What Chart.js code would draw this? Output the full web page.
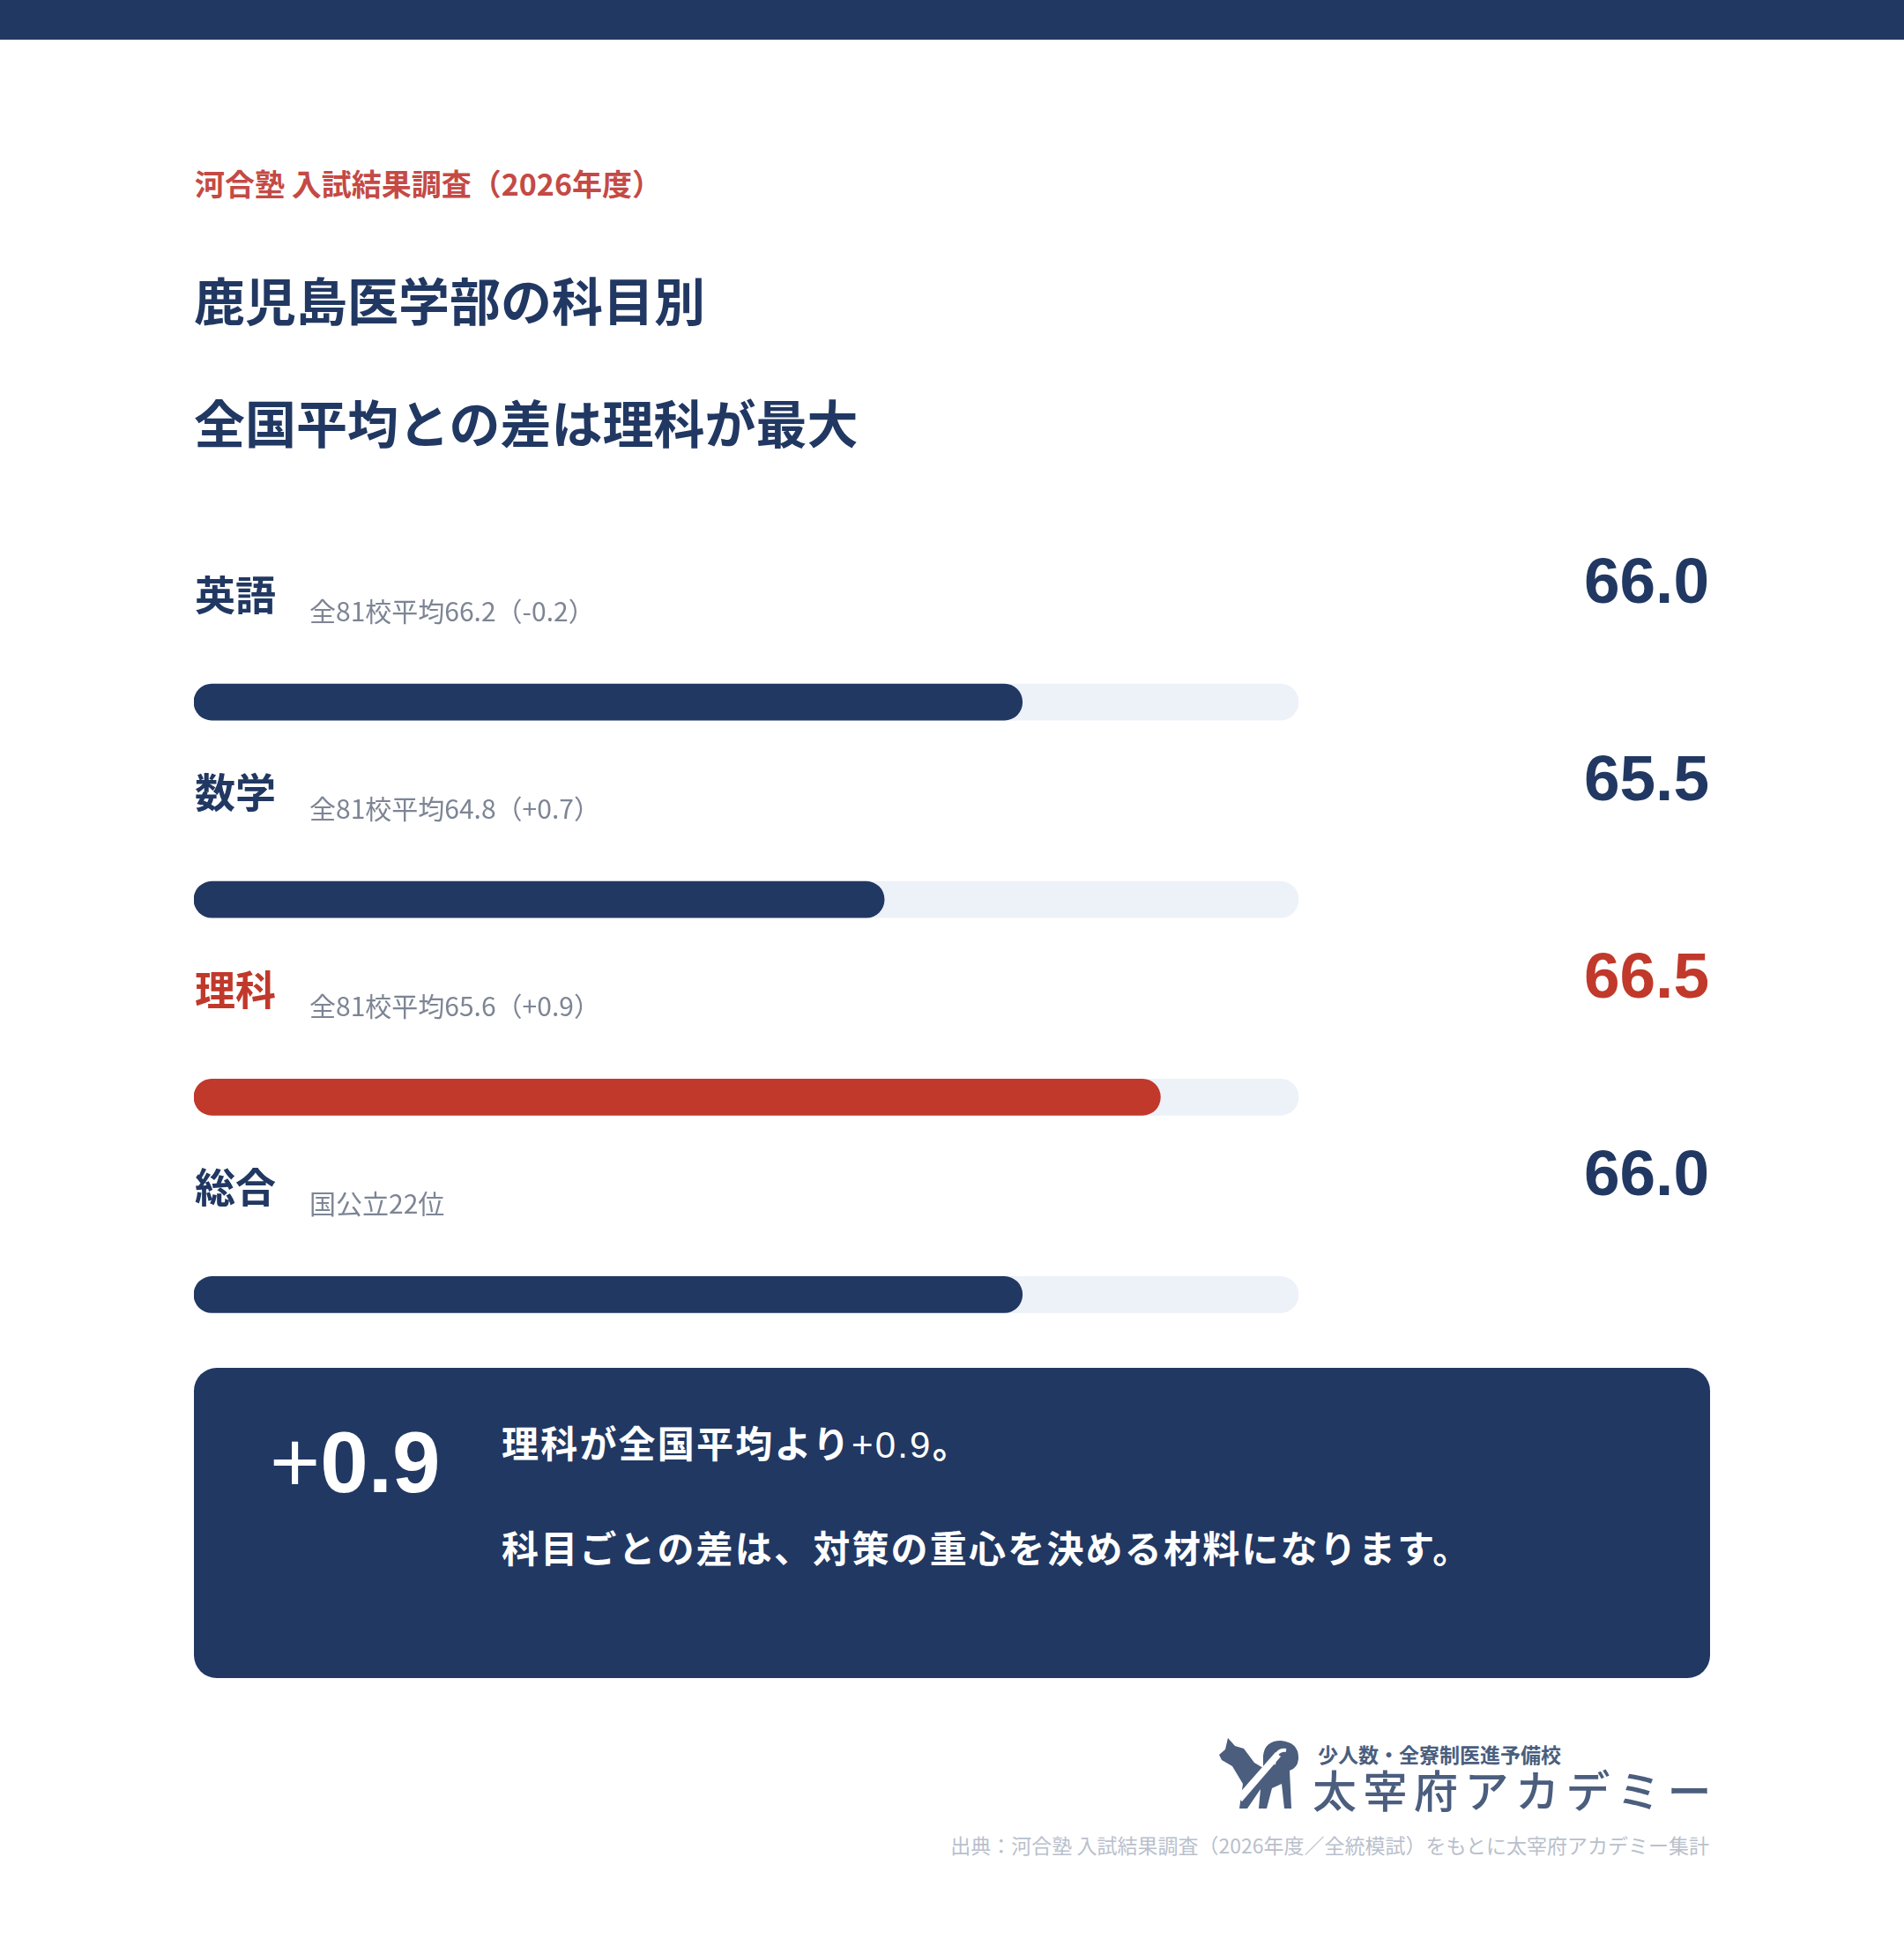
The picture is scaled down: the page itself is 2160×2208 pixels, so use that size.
<!DOCTYPE html>
<html lang="ja">
<head>
<meta charset="utf-8">
<title>鹿児島医学部の科目別 全国平均との差</title>
<script src="https://cdn.jsdelivr.net/npm/chart.js@4.4.1/dist/chart.umd.min.js"></script>
<style>
  html, body { margin: 0; padding: 0; background: #fff; }
  body { width: 2160px; height: 2208px; position: relative; overflow: hidden;
         font-family: "Noto Sans CJK JP", "Noto Sans", sans-serif; }
  .topbar { position: absolute; left: 0; top: 0; width: 2160px; height: 45px; background: #213862; }
  .abs { position: absolute; white-space: nowrap; line-height: 1; }
  #kicker { left: 221px; top: 191px; font-size: 34px; font-weight: 700; color: #c44a45; }
  .title { left: 220px; font-size: 58px; font-weight: 700; color: #213862; }
  #chartWrap { position: absolute; left: 220px; top: 560px; width: 1720px; height: 1021px; }
  #callout { position: absolute; left: 220px; top: 1552px; width: 1720px; height: 352px;
             background: #213862; border-radius: 26px; z-index: 2; }
  #big { left: 86px; top: 58px; font-family: "Liberation Sans", Arial, sans-serif;
         font-size: 98px; font-weight: 700; color: #fff; }
  .thin { font-weight: 400; font-family: "Liberation Sans", Arial, sans-serif; }
  .msg { left: 349px; font-size: 42px; font-weight: 700; color: #fff; letter-spacing: 2.2px; }
  #logo { position: absolute; left: 1383px; top: 1972px; width: 92px; height: 80px; }
  #tag { left: 1495px; top: 1979px; font-size: 23px; font-weight: 700; color: #4b5e7e; }
  #brand { left: 1489px; top: 2004px; font-size: 50px; font-weight: 500; color: #4b5e7e; letter-spacing: 7.5px; }
  #source { right: 221px; top: 2082px; font-size: 23px; color: #b9c0cc; }
</style>
</head>
<body>
<div class="topbar"></div>
<div class="abs" id="kicker">河合塾 入試結果調査（2026年度）</div>
<div class="abs title" style="top:310px">鹿児島医学部の科目別</div>
<div class="abs title" style="top:449px">全国平均との差は理科が最大</div>

<div id="chartWrap"><canvas id="scoreChart" width="1720" height="1021"></canvas></div>

<div id="callout">
  <div class="abs" id="big"><span class="thin">+</span>0.9</div>
  <div class="abs msg" style="top:63px">理科が全国平均より<span class="thin">+0.9</span>。</div>
  <div class="abs msg" style="top:182px">科目ごとの差は、対策の重心を決める材料になります。</div>
</div>

<svg id="logo" viewBox="0 0 92 80">
  <path fill="#4b5e7e" d="M10,0 L18,9 L28,12 L40,28 L50,34 L50,20 Q52,3 70,3 Q91,5 90,24 Q89,34 80,37 L82,80 L74,80 L71,52 L60,57 L54,80 L45,80 L47,58 L32,80 L23,80 L27,52 L15,32 L3,25 L0,19 L7,13 Z"/>
  <path fill="#fff" d="M20,66 L64,16 L70,21 L26,72 Z"/>
  <path fill="none" stroke="#fff" stroke-width="4" d="M62,30 Q64,12 76,14"/>
</svg>
<div class="abs" id="tag">少人数・全寮制医進予備校</div>
<div class="abs" id="brand">太宰府アカデミー</div>
<div class="abs" id="source">出典：河合塾 入試結果調査（2026年度／全統模試）をもとに太宰府アカデミー集計</div>

<script>
// data
const subjects = ["英語", "数学", "理科", "総合"]
const scores = [66.0, 65.5, 66.5, 66.0]
const notes = ["全81校平均66.2（-0.2）", "全81校平均64.8（+0.7）", "全81校平均65.6（+0.9）", "国公立22位"]
const highlightSubject = "理科"
const axisMin = 63
const axisMax = 67

const navy = "#213862"
const red = "#c0392b"
const track = "#edf1f8"

const barColors = subjects.map(s => s === highlightSubject ? red : navy)

const rowLabels = {
    id: "rowLabels",
    afterDatasetsDraw(chart) {
        const ctx = chart.ctx
        const meta = chart.getDatasetMeta(1)
        const right = chart.width - 1
        ctx.save()
        meta.data.forEach((bar, i) => {
            const left = chart.chartArea.left
            const color = subjects[i] === highlightSubject ? red : navy
            ctx.textBaseline = "alphabetic"

            ctx.textAlign = "left"
            ctx.fillStyle = color
            ctx.font = '700 46px "Noto Sans CJK JP"'
            ctx.fillText(subjects[i], left + 1, bar.y - 105)

            ctx.fillStyle = "#7d8595"
            ctx.font = '400 30px "Noto Sans CJK JP"'
            ctx.fillText(notes[i], left + 131, bar.y - 92)

            ctx.textAlign = "right"
            ctx.fillStyle = color
            ctx.font = '700 73px "Liberation Sans", Arial, sans-serif'
            ctx.fillText(scores[i].toFixed(1), right, bar.y - 113)
        })
        ctx.restore()
    }
}

const scoreChart = new Chart(document.getElementById("scoreChart"), {
    type: "bar",
    data: {
        labels: subjects,
        datasets: [{
            label: "track",
            data: subjects.map(() => axisMax),
            backgroundColor: track,
            base: axisMin,
            order: 2
        },
        {
            label: "score",
            data: scores,
            backgroundColor: barColors,
            base: axisMin,
            order: 1
        }]
    },
    options: {
        indexAxis: "y",
        responsive: false,
        animation: false,
        devicePixelRatio: 1,
        datasets: {
            bar: {
                grouped: false,
                barThickness: 41,
                borderRadius: 21,
                borderSkipped: false
            }
        },
        layout: {
            padding: {top: 124.5, bottom: 0, left: 0, right: 467}
        },
        scales: {
            x: {display: false, min: axisMin, max: axisMax},
            y: {display: false}
        },
        plugins: {
            legend: {display: false},
            tooltip: {enabled: false}
        }
    },
    plugins: [rowLabels]
})
</script>
</body>
</html>
